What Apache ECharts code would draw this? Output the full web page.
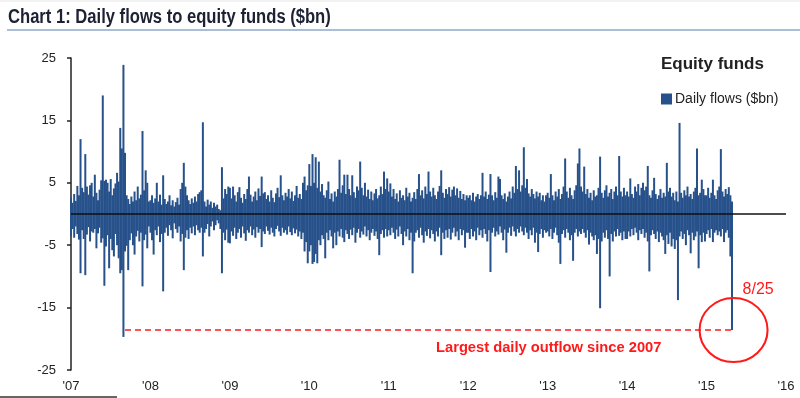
<!DOCTYPE html>
<html>
<head>
<meta charset="utf-8">
<script src="https://cdn.jsdelivr.net/npm/echarts@6/dist/echarts.min.js"></script>
<style>
html,body{margin:0;padding:0;background:#fff;}
#main{width:800px;height:398px;}
</style>
</head>
<body>
<div id="main"></div>
<script>
// x axis tick labels, one per year
var yearLabels = ["'07", "'08", "'09", "'10", "'11", "'12", "'13", "'14", "'15", "'16"];

// biggest inflow / outflow in each slot (50 slots a year)
var in07 = [2.6,1.8,3.2,2.1,4.5,3.0,12.0,4.2,3.5,9.6,4.4,3.1,4.6,5.0,2.8,6.3,3.4,2.2,3.9,5.4,19.0,5.3,5.5,5.0,3.6,5.6,3.0,4.1,4.9,6.6,5.2,13.8,10.5,23.9,9.8,3.0,2.4,1.6,2.8,2.0,3.6,2.2,4.4,2.5,3.1,13.3,3.8,7.0,5.0,2.0];
var out07 = [-3.6,-2.4,-3.8,-2.0,-3.2,-4.1,-9.5,-2.6,-4.0,-9.8,-3.3,-2.1,-4.4,-2.8,-3.0,-2.4,-5.5,-3.1,-2.2,-4.6,-3.9,-11.5,-5.2,-3.4,-8.7,-4.0,-5.8,-6.8,-3.2,-5.0,-7.1,-9.5,-9.0,-19.7,-6.0,-5.1,-9.0,-4.2,-3.1,-5.0,-6.5,-3.6,-2.7,-4.4,-3.0,-11.6,-4.2,-3.3,-5.5,-2.0];
var in08 = [2.2,3.0,1.8,2.5,5.0,2.0,3.1,1.5,6.2,2.4,1.6,2.0,3.0,1.4,2.2,1.2,1.9,2.6,1.5,4.0,5.0,8.2,4.4,3.0,2.2,1.6,2.5,1.8,2.8,2.0,3.2,3.5,3.8,14.7,2.0,1.2,2.3,1.5,2.0,1.0,1.8,1.2,1.5,0.8,0.6,7.5,2.5,4.0,3.2,4.4];
var out08 = [-3.0,-4.2,-6.5,-2.6,-3.4,-2.0,-4.5,-3.2,-12.4,-3.0,-2.2,-3.5,-1.8,-2.6,-3.9,-1.5,-2.4,-3.0,-2.0,-4.4,-3.2,-9.0,-3.8,-2.6,-4.0,-2.2,-3.1,-2.0,-3.4,-1.8,-2.6,-3.0,-2.2,-6.8,-3.0,-2.4,-1.6,-3.6,-2.0,-1.2,-2.6,-1.8,-1.0,-1.5,-2.4,-9.5,-3.0,-4.2,-2.5,-4.6];
var in09 = [4.2,2.5,4.4,3.0,2.0,3.5,4.3,2.6,1.8,3.2,2.4,4.0,6.0,3.1,2.0,2.8,3.6,2.2,4.1,2.9,6.0,3.3,3.5,2.4,3.0,2.0,3.8,2.6,1.9,3.3,4.2,2.7,6.2,3.0,2.2,3.4,2.8,4.0,2.5,3.6,2.1,3.0,4.5,2.6,3.2,2.4,5.0,6.0,3.8,4.6];
var out09 = [-4.7,-2.8,-3.5,-2.2,-4.0,-3.0,-2.4,-3.8,-2.0,-3.1,-4.3,-2.6,-3.0,-2.0,-3.4,-2.5,-3.8,-2.1,-3.0,-2.4,-5.3,-2.8,-3.2,-2.0,-2.7,-3.3,-2.2,-3.0,-3.6,-2.4,-1.9,-2.8,-3.5,-2.2,-3.0,-2.6,-3.3,-2.0,-2.9,-3.4,-2.3,-3.1,-2.5,-3.6,-2.8,-4.0,-3.0,-6.0,-4.5,-7.9];
var in10 = [8.0,4.5,9.6,5.0,9.1,4.2,8.4,3.6,4.8,3.0,2.6,3.8,5.2,2.4,3.3,2.0,3.6,2.8,4.0,8.7,3.4,4.6,6.3,3.2,6.3,4.0,3.0,6.2,3.5,2.6,4.4,3.8,8.4,4.2,3.0,5.0,2.8,3.9,2.4,3.6,2.2,3.3,4.0,2.5,3.0,4.4,3.2,6.8,4.0,5.7];
var out10 = [-6.0,-5.0,-8.0,-7.7,-6.4,-7.9,-4.2,-5.0,-3.4,-4.0,-7.1,-3.0,-4.2,-2.6,-3.6,-5.5,-3.0,-5.0,-2.8,-3.6,-2.4,-3.8,-4.5,-2.6,-3.2,-4.0,-2.5,-3.4,-2.2,-4.6,-3.0,-2.4,-3.8,-2.8,-3.3,-2.0,-3.6,-2.6,-4.2,-3.0,-2.4,-3.5,-2.8,-4.0,-6.6,-3.2,-2.6,-3.8,-2.4,-3.6];
var in11 = [3.6,4.9,2.8,4.0,2.4,3.3,2.0,3.8,2.6,3.0,2.2,4.2,2.8,3.4,2.0,2.6,3.5,2.4,4.0,6.4,3.0,3.8,2.5,4.4,3.2,6.8,3.6,2.8,4.2,3.0,2.4,3.6,4.5,7.0,3.4,2.6,4.0,3.2,4.3,2.8,3.9,4.4,3.0,4.1,2.6,3.7,2.4,3.2,2.2,3.0];
var out11 = [-2.6,-3.4,-2.2,-3.0,-4.0,-2.5,-3.6,-2.0,-3.2,-5.0,-2.8,-3.6,-2.4,-4.2,-3.0,-9.5,-4.4,-3.0,-2.6,-3.8,-2.2,-3.4,-4.6,-2.8,-3.5,-2.4,-3.9,-2.6,-3.2,-4.4,-2.8,-3.6,-2.2,-6.6,-3.0,-4.0,-2.6,-3.8,-2.4,-4.1,-3.0,-2.2,-3.6,-2.8,-4.2,-2.4,-3.4,-2.6,-5.4,-3.0];
var in12 = [2.6,3.0,2.2,3.4,2.0,2.8,3.2,2.4,3.0,6.6,2.8,3.6,2.4,3.1,6.4,3.0,2.2,3.5,2.6,6.0,5.6,3.0,2.4,3.3,2.0,2.8,3.6,2.5,4.4,3.4,7.7,4.0,7.0,3.6,4.6,10.7,4.2,5.6,3.3,2.8,4.0,3.2,2.5,3.6,2.8,3.4,2.2,3.0,2.0,3.0];
var out12 = [-3.0,-4.0,-2.4,-3.6,-2.8,-4.2,-2.2,-3.4,-2.6,-3.8,-2.4,-3.2,-4.4,-2.6,-9.3,-3.0,-2.2,-3.6,-2.8,-3.3,-2.0,-3.0,-4.2,-2.5,-6.2,-3.0,-2.2,-3.5,-2.0,-2.8,-3.6,-2.4,-3.0,-2.0,-2.8,-3.4,-2.2,-3.0,-4.0,-2.6,-3.4,-2.2,-4.6,-3.0,-6.1,-3.2,-2.4,-3.8,-2.6,-3.0];
var in13 = [3.4,2.6,6.4,3.0,2.2,3.6,2.8,4.0,2.4,3.2,4.4,8.9,3.6,2.6,4.2,3.0,2.4,3.8,4.6,8.1,10.5,4.4,3.6,7.6,3.2,4.0,2.6,3.4,2.2,3.8,2.8,3.0,4.2,9.2,3.4,2.6,3.8,4.6,2.8,3.4,4.0,2.4,3.6,4.4,3.0,9.3,3.6,2.8,4.2,3.0];
var out13 = [-2.8,-3.6,-2.4,-4.0,-3.0,-2.2,-3.4,-4.6,-8.0,-3.2,-2.6,-3.8,-2.4,-3.0,-4.2,-3.4,-7.5,-3.0,-2.4,-3.6,-2.8,-3.2,-2.4,-3.0,-3.8,-2.6,-4.9,-3.0,-3.6,-4.2,-3.4,-6.4,-4.0,-15.1,-4.4,-3.0,-3.8,-2.6,-4.0,-10.0,-3.2,-4.4,-2.8,-3.6,-2.4,-3.5,-3.0,-4.2,-2.8,-4.0];
var in14 = [3.6,2.8,5.7,3.2,2.6,4.4,3.6,4.8,3.0,4.2,5.0,3.8,4.4,7.7,3.0,2.6,3.8,5.8,3.2,2.4,3.0,4.0,2.6,3.4,2.8,8.2,3.6,4.2,2.8,3.4,2.2,3.6,2.0,14.6,3.4,2.6,3.8,3.0,4.4,2.8,3.2,2.4,3.6,4.2,10.5,3.0,3.4,5.5,4.0,3.0];
var out14 = [-4.0,-2.8,-3.6,-2.4,-3.4,-2.2,-3.0,-4.2,-2.6,-3.2,-2.4,-3.8,-3.0,-4.4,-9.2,-3.4,-2.6,-3.2,-4.0,-2.8,-4.5,-3.0,-3.6,-4.2,-6.4,-3.4,-4.8,-3.0,-5.2,-4.0,-5.6,-4.2,-13.8,-3.6,-2.8,-4.0,-3.2,-5.0,-2.6,-3.4,-6.3,-3.0,-4.2,-3.6,-2.8,-8.7,-3.4,-4.5,-3.0,-4.4];
var in15 = [3.0,4.2,2.6,3.4,5.5,3.0,2.4,3.8,4.4,10.4,3.6,2.8,4.0,3.2,4.3,3.0,2.0];
var out15 = [-3.2,-2.6,-3.8,-2.4,-4.5,-3.0,-2.6,-3.4,-2.8,-3.6,-2.4,-4.5,-3.0,-2.6,-3.8,-6.8,-18.6];

var flowsIn = [].concat(in07, in08, in09, in10, in11, in12, in13, in14, in15);
var flowsOut = [].concat(out07, out08, out09, out10, out11, out12, out13, out14, out15);

var perYear = in07.length;
var cats = [];
for (var i = 0; i <= (yearLabels.length - 1) * perYear; i++) {
    cats.push(i % perYear === 0 ? yearLabels[i / perYear] : '');
}
var lastIdx = flowsOut.length - 1;
var lastVal = flowsOut[lastIdx];   // 8/25
var idx07 = out07.indexOf(Math.min.apply(null, out07));

var barColor = '#27518a';
var red = '#ff1a1a';

var chart = echarts.init(document.getElementById('main'));
var option = {
    backgroundColor: '#fff',
    animation: false,
    title: {
        text: 'Equity funds',
        left: 656, top: 51,
        textStyle: {fontFamily: 'Liberation Sans', fontWeight: 'bold', fontSize: 17, color: '#222'}
    },
    legend: {
        data: ['Daily flows ($bn)'],
        left: 656, top: 87,
        icon: 'rect', itemWidth: 11, itemHeight: 11,
        textStyle: {fontFamily: 'Liberation Sans', fontSize: 14, color: '#222', padding: [0, 0, 0, -2]}
    },
    grid: {left: 71, right: 14, top: 58, bottom: 28},
    xAxis: {
        type: 'category',
        data: cats,
        boundaryGap: false,
        axisLine: {show: false, onZero: false},
        axisTick: {show: false},
        axisLabel: {
            interval: function (i) { return i % perYear === 0; },
            fontFamily: 'Liberation Sans', fontSize: 13, color: '#222', margin: 10
        },
        splitLine: {show: false}
    },
    yAxis: {
        type: 'value',
        min: -25, max: 25, interval: 10,
        axisLine: {show: true, lineStyle: {color: '#222', width: 1.5}},
        axisTick: {show: true, length: 4, lineStyle: {color: '#222', width: 1.5}},
        axisLabel: {fontFamily: 'Liberation Sans', fontSize: 13, color: '#222', margin: 15},
        splitLine: {show: false}
    },
    series: [{
        name: 'Daily flows ($bn)',
        type: 'bar',
        data: flowsIn,
        barWidth: 2,
        itemStyle: {color: barColor},
        markLine: {
            silent: true, symbol: 'none',
            label: {show: false},
            lineStyle: {color: '#111', width: 1.6, type: 'solid'},
            data: [{yAxis: 0}]
        }
    }, {
        name: 'Daily flows ($bn)',
        type: 'bar',
        data: flowsOut,
        barWidth: 2,
        barGap: '-100%',
        itemStyle: {color: barColor},
        markLine: {
            silent: true, symbol: 'none',
            label: {show: false},
            lineStyle: {color: red, width: 1.6, type: [6, 4]},
            data: [[{coord: [idx07 + 1, lastVal]}, {coord: [lastIdx, lastVal]}]]
        },
        markPoint: {
            silent: true,
            data: [{
                coord: [lastIdx + 1, lastVal],
                symbol: 'circle', symbolSize: [68, 64],
                itemStyle: {color: 'rgba(0,0,0,0)', borderColor: red, borderWidth: 2},
                label: {
                    show: true, formatter: '8/25', position: [44, -16],
                    fontFamily: 'Liberation Sans', fontSize: 16, color: red
                }
            }]
        }
    }],
    graphic: [
        {type: 'line', shape: {x1: 0, y1: 1, x2: 800, y2: 1}, style: {stroke: '#e6e6e6', lineWidth: 1}},
        {type: 'text', left: 8, top: 7, scaleX: 0.83,
         style: {text: 'Chart 1: Daily flows to equity funds ($bn)', font: 'bold 20px "Liberation Sans"', fill: '#1c2233'}},
        {type: 'line', shape: {x1: 7, y1: 30, x2: 800, y2: 30}, style: {stroke: '#a9bfd8', lineWidth: 2}},
        {type: 'text', left: 436, top: 340, scaleX: 0.98,
         style: {text: 'Largest daily outflow since 2007', font: 'bold 15px "Liberation Sans"', fill: red}},
        {type: 'line', shape: {x1: 0, y1: 397, x2: 117, y2: 397}, style: {stroke: '#333', lineWidth: 1.5}}
    ]
};
chart.setOption(option);
</script>
</body>
</html>
